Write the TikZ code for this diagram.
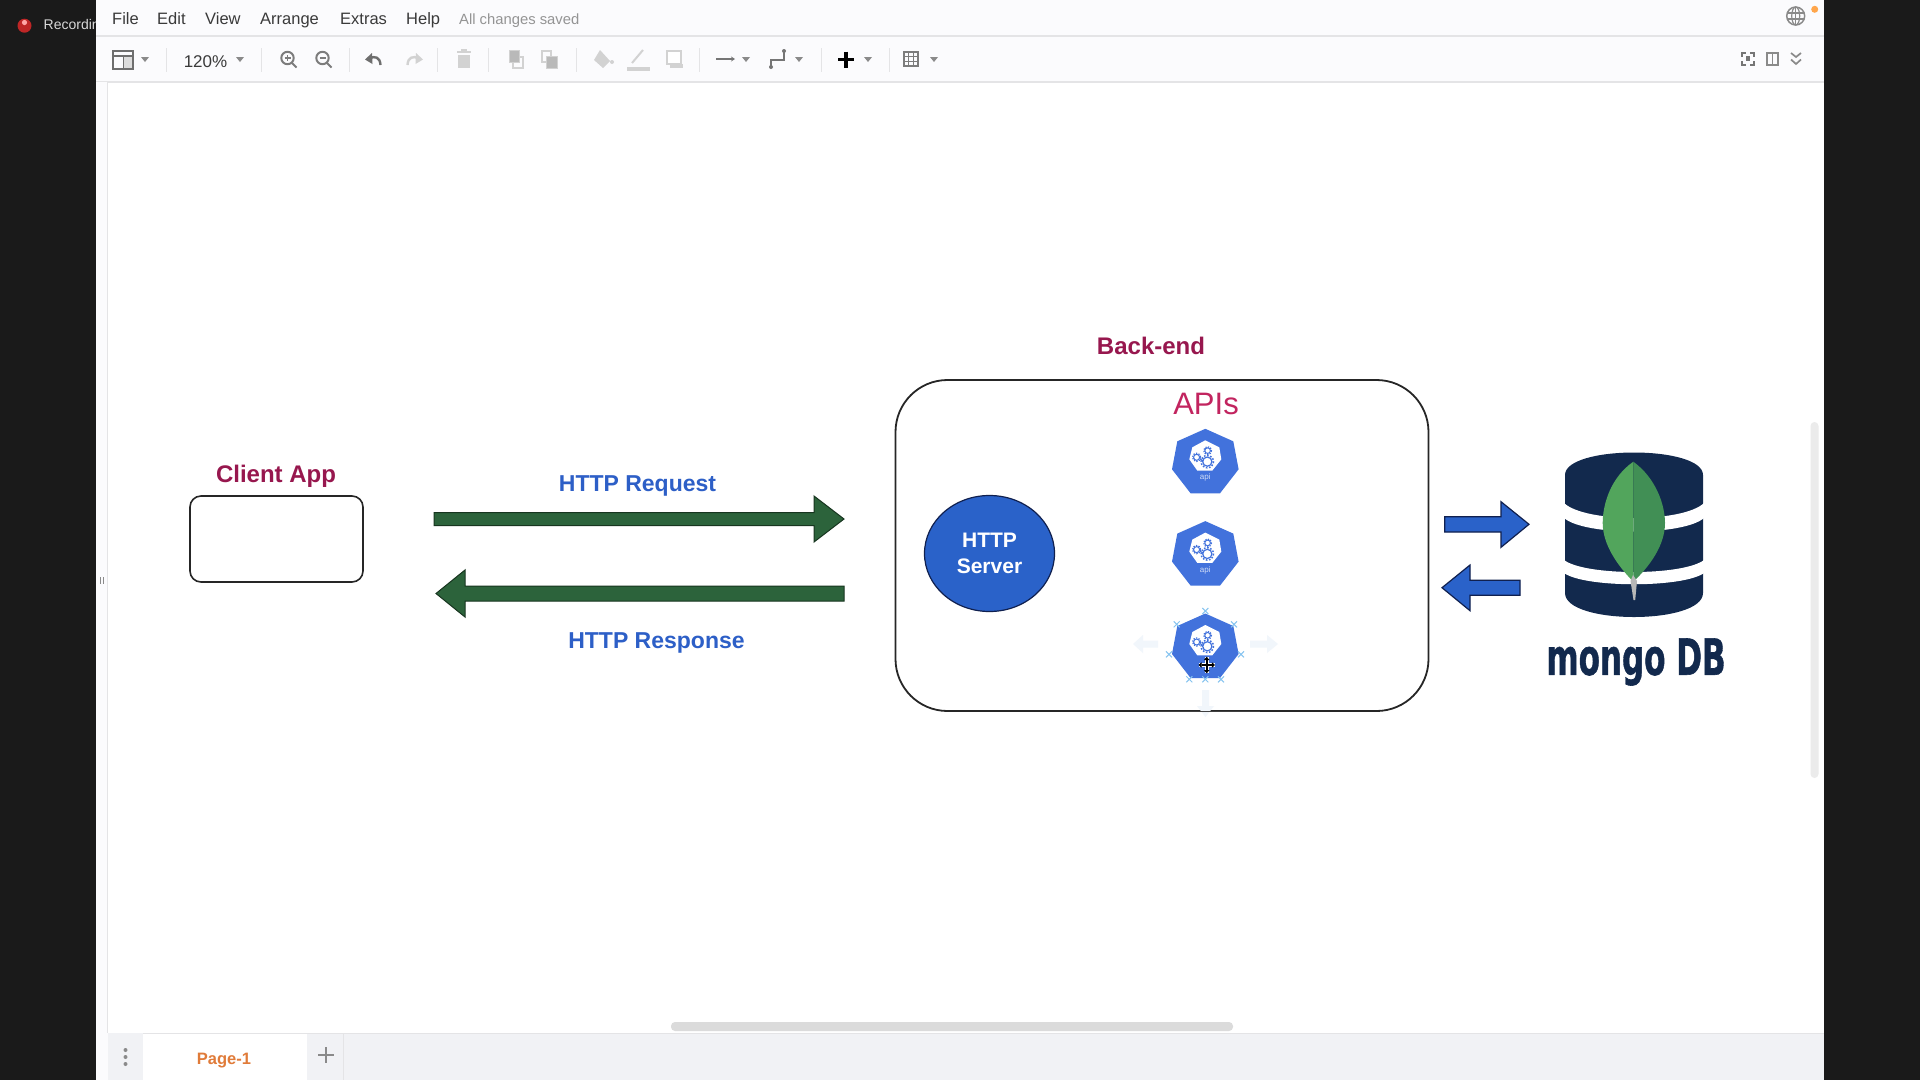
\documentclass[tikz,border=0pt]{standalone}
\usepackage{fontspec}
\setmainfont{Liberation Sans}
\newfontfamily\logofont[BoldFeatures={FakeBold=1.2}]{DejaVu Sans}
\usetikzlibrary{arrows.meta,shapes.geometric}
\definecolor{dark}{HTML}{1A1A1A}
\definecolor{barbg}{HTML}{F1F2F5}
\definecolor{tool}{HTML}{FBFBFD}
\definecolor{sepc}{HTML}{E4E4E6}
\definecolor{menutx}{HTML}{3A3A3A}
\definecolor{icong}{HTML}{8A8A8A}
\definecolor{iconl}{HTML}{D2D2D2}
\definecolor{wine}{HTML}{97174E}
\definecolor{apic}{HTML}{C2245F}
\definecolor{labelblue}{HTML}{2D5FC7}
\definecolor{arrowgreen}{HTML}{2C633B}
\definecolor{arrowedge}{HTML}{17351F}
\definecolor{serverblue}{HTML}{2A62C9}
\definecolor{navyedge}{HTML}{10204F}
\definecolor{k8s}{HTML}{4272DC}
\definecolor{mongonavy}{HTML}{12294D}
\definecolor{leafl}{HTML}{52A55C}
\definecolor{leafd}{HTML}{418F55}
\definecolor{handle}{HTML}{86C4F0}
\definecolor{fadeblue}{HTML}{F1F6FB}
\definecolor{pageorange}{HTML}{E07B39}
\tikzset{
  menuitem/.style={text=menutx,inner sep=0pt,anchor=base,font=\fontsize{16.5}{20}\selectfont},
  caret/.pic={\fill[icong] (-4,-2.5) -- (4,-2.5) -- (0,2.5) -- cycle;},
  sepline/.style={sepc,line width=1pt},
  title/.style={font=\fontsize{24}{28}\selectfont\bfseries,text=wine,inner sep=0pt},
  httplabel/.style={font=\fontsize{23}{27}\selectfont\bfseries,text=labelblue,inner sep=0pt},
  greenarrow/.style={fill=arrowgreen,draw=arrowedge,line width=1pt},
  bluearrow/.style={fill=serverblue,draw=navyedge,line width=1.2pt},
  handlemark/.style={handle,line width=1pt},
  apiicon/.pic={
    \fill[k8s] (0,-34.5) -- (28,-22) -- (33.3,6) -- (14.7,30) -- (-14.7,30) -- (-33.3,6) -- (-28,-22) -- cycle;
    \fill[white] (0,-23) -- (14,-16) -- (16,-4) -- (7,7.3) -- (-8,7.3) -- (-16,-4) -- (-13,-16) -- cycle;
    \draw[k8s,line width=1.2pt] (2,-1.7) circle (4.6);
    \draw[k8s,line width=1.5pt,dash pattern=on 1.6pt off 1.6pt] (2,-1.7) circle (6.2);
    \draw[k8s,line width=1pt] (-8.7,-6) circle (3);
    \draw[k8s,line width=1.2pt,dash pattern=on 1.3pt off 1.3pt] (-8.7,-6) circle (4.1);
    \draw[k8s,line width=1pt] (2.3,-12.7) circle (2.8);
    \draw[k8s,line width=1.2pt,dash pattern=on 1.3pt off 1.3pt] (2.3,-12.7) circle (3.9);
    \draw[k8s,line width=1pt] (-5.5,-4.5) -- (-2,-2.5);
  },
  apitext/.style={font=\fontsize{8}{9}\selectfont,text=white!75!k8s,inner sep=0pt},
}
\begin{document}
\begin{tikzpicture}[x=1pt,y=-1pt]
\useasboundingbox (0,0) rectangle (1920,1080);
\fill[dark] (0,0) rectangle (1920,1080);
% recording indicator
\fill[red!70!black!85!white] (24.5,25.7) circle (7);
\fill[red!35!white] (24.5,22.5) circle (2.6);
\node[anchor=west,inner sep=0pt,text=white!85!black,font=\fontsize{14}{16}\selectfont] (rec) at (43.5,25.5) {Recording};
% app window
\fill[white] (96,0) rectangle (1824,1080);
\fill[tool] (96,0) rectangle (1824,82);
\draw[sepc,line width=1.2pt] (96,36) -- (1824,36);
\draw[sepc,line width=1.2pt] (96,82) -- (1824,82);
\fill[tool] (96,82) rectangle (107,1033);
\draw[sepc,line width=1pt] (107.5,82) -- (107.5,1033);
\fill[icong] (100.3,577) rectangle (101.3,584);
\fill[icong] (102.5,577) rectangle (103.5,584);
% menu
\node[menuitem,anchor=base west] (mfile) at (112,24) {File};
\node[menuitem,anchor=base west] (medit) at (157,24) {Edit};
\node[menuitem,anchor=base west] (mview) at (205,24) {View};
\node[menuitem,anchor=base west] (marr) at (260,24) {Arrange};
\node[menuitem,anchor=base west] (mext) at (340,24) {Extras};
\node[menuitem,anchor=base west] (mhelp) at (406,24) {Help};
\node[anchor=base west,inner sep=0pt,text=black!42,font=\fontsize{14.8}{16}\selectfont] (msaved) at (459,24) {All changes saved};
% toolbar separators
\foreach \sx in {166,261,349,437,488,576,699,821,889}
  \draw[sepline] (\sx,48) -- (\sx,72);
% panel icon
\draw[icong!80!black,line width=1.6pt] (113,51) rectangle (133,69);
\draw[icong!80!black,line width=1.6pt] (113,56) -- (133,56) (124,56) -- (124,69);
\fill[icong!30] (124,56.8) rectangle (132.2,68.2);
\pic at (145,59.5) {caret};
\node[anchor=base,inner sep=0pt,text=menutx,font=\fontsize{17}{20}\selectfont] (zoompct) at (205.5,67) {120\%};
\pic at (240,59.5) {caret};
% zoom in / out
\draw[icong!90!black,line width=2pt] (287.5,58) circle (6.2) (292,63) -- (296.5,67.5);
\draw[icong!90!black,line width=1.4pt] (284.5,58) -- (290.5,58) (287.5,55) -- (287.5,61);
\draw[icong!90!black,line width=2pt] (322.5,58) circle (6.2) (327,63) -- (331.5,67.5);
\draw[icong!90!black,line width=1.4pt] (319.5,58) -- (325.5,58);
% undo / redo
\draw[icong!80!black,line width=2.4pt] (380.5,65) .. controls (380,57) and (375,56) .. (370,58);
\fill[icong!80!black] (365,59.5) -- (372,53) -- (372.5,64) -- cycle;
\draw[iconl,line width=2.4pt] (407.5,65) .. controls (408,57) and (413,56) .. (418,58);
\fill[iconl] (423,59.5) -- (416,53) -- (415.5,64) -- cycle;
% trash
\fill[iconl] (458,54.5) rectangle (469.5,68);
\fill[iconl] (456.5,51) rectangle (471,53.2);
\fill[iconl] (461,49) rectangle (466.5,51);
% to front / to back
\draw[iconl,line width=1.1pt] (510,51) rectangle (519,62);
\draw[iconl,line width=1.1pt] (513,57) rectangle (523,68);
\fill[icong!60] (510,51) rectangle (519,62);
\draw[iconl,line width=1.1pt] (542,51) rectangle (551,62);
\draw[iconl,line width=1.1pt] (547,57) rectangle (557,68);
\fill[icong!60] (547,57) rectangle (557,68);
% fill, line, shadow
\fill[iconl] (600,50) -- (610,61) -- (603,68) -- (594,60) -- cycle;
\fill[iconl] (612,62) circle (2);
\draw[iconl,line width=2pt] (632,63) -- (643,50);
\fill[iconl] (627,67) rectangle (650,70.5);
\draw[iconl,line width=1.4pt,fill=white] (667,51) rectangle (681,64);
\fill[iconl] (670,64) rectangle (683,68);
% connection, waypoint
\draw[menutx!70,line width=1.5pt,-{Stealth[length=4pt,width=5pt]}] (716,59) -- (735,59);
\pic at (746,59.5) {caret};
\draw[menutx!70,line width=1.4pt] (771,67) -- (771,60) -- (784,60) -- (784,51);
\fill[menutx!70] (771,67) circle (2);
\fill[menutx!70] (784,51) circle (2);
\pic at (799,59.5) {caret};
% plus
\draw[black,line width=3.2pt] (838,59.5) -- (854,59.5) (846,51.5) -- (846,67.5);
\pic at (868,59.5) {caret};
% table
\draw[icong!90!black,line width=1.1pt] (904,52) rectangle (918,66)
  (908.7,52) -- (908.7,66) (913.3,52) -- (913.3,66)
  (904,56.7) -- (918,56.7) (904,61.3) -- (918,61.3);
\pic at (934,59.5) {caret};
% right icons
\draw[icong,line width=1.5pt] (1795.7,16) circle (9);
\draw[icong,line width=1.2pt] (1795.7,16) ellipse (4 and 9);
\draw[icong,line width=1.2pt] (1787,13) -- (1804.4,13) (1787,19) -- (1804.4,19) (1795.7,7) -- (1795.7,25);
\fill[orange!70!white] (1814.7,9.3) circle (3.5);
\draw[icong!85!black,line width=1.6pt] (1742,56.5) -- (1742,53) -- (1746,53) (1750,53) -- (1754,53) -- (1754,56.5) (1754,61) -- (1754,65) -- (1750,65) (1746,65) -- (1742,65) -- (1742,61);
\fill[icong!85!black] (1746,56) rectangle (1750,61);
\draw[icong,line width=1.5pt] (1767,53) rectangle (1778,65);
\draw[icong,line width=1.5pt] (1772.5,53) -- (1772.5,65);
\draw[icong,line width=1.7pt] (1791,53) -- (1796,57) -- (1801,53) (1791,59.5) -- (1796,64) -- (1801,59.5);
% scrollbars
\fill[black!8,rounded corners=4pt] (1810.5,422) rectangle (1818.5,778);
\fill[black!14,rounded corners=4pt] (671,1022) rectangle (1233,1031);
% tab bar
\fill[barbg] (96,1033) rectangle (1824,1080);
\draw[sepc,line width=1pt] (96,1033) -- (1824,1033);
\fill[tool] (96,1033) rectangle (107.5,1080);
\fill[barbg] (107.5,1033) rectangle (143,1080);
\fill[white] (143,1034) rectangle (307,1080);
\fill[icong] (125.5,1050) circle (2);
\fill[icong] (125.5,1057) circle (2);
\fill[icong] (125.5,1064) circle (2);
\node[font=\fontsize{16.5}{20}\selectfont\bfseries,text=pageorange,inner sep=0pt] (page) at (224,1060.5) {Page-1};
\draw[icong,line width=2.6pt] (318,1055) -- (334,1055) (326,1047) -- (326,1063);
\draw[sepc,line width=.8pt] (343,1034) -- (343,1080);
% client
\node[title] (clientlbl) at (276,476.5) {Client App};
\node[draw=black!85,line width=1.6pt,rounded corners=11pt,fill=white,minimum width=173pt,minimum height=86pt,inner sep=0pt] (client) at (276.5,539) {};
% HTTP labels and arrows
\node[httplabel] (reqlbl) at (637.5,485.5) {HTTP Request};
\node[httplabel] (resplbl) at (656.5,643) {HTTP Response};
\draw[greenarrow] (434,512.5) -- (814,512.5) -- (814,496) -- (844,519) -- (814,542) -- (814,525.5) -- (434,525.5) -- cycle;
\draw[greenarrow] (844,586) -- (465,586) -- (465,570) -- (436,593.5) -- (465,617) -- (465,601) -- (844,601) -- cycle;
% back-end box
\node[title] (backlbl) at (1151,345.5) {Back-end};
\node[draw=black!85,line width=1.8pt,rounded corners=52pt,minimum width=533pt,minimum height=331pt,inner sep=0pt] (backend) at (1162,545.5) {};
\node[font=\fontsize{31}{36}\selectfont,text=apic,inner sep=0pt] (apis) at (1206,404) {APIs};
\node[ellipse,draw=navyedge,fill=serverblue,line width=1.2pt,minimum width=130pt,minimum height=116pt,inner sep=0pt,align=center,text=white,font=\fontsize{21}{26.5}\selectfont\bfseries] (server) at (989.5,553.5) {HTTP\\Server};
% fading handles of the selected icon
\fill[fadeblue] (1158,640.5) -- (1143,640.5) -- (1143,635) -- (1133,644) -- (1143,653) -- (1143,647.5) -- (1158,647.5) -- cycle;
\fill[fadeblue] (1250,640.5) -- (1267,640.5) -- (1267,635) -- (1278,644) -- (1267,653) -- (1267,647.5) -- (1250,647.5) -- cycle;
\fill[fadeblue] (1202,690) -- (1202,706) -- (1197,706) -- (1205.5,717) -- (1214,706) -- (1209,706) -- (1209,690) -- cycle;
\draw[black!75,line width=1.8pt] (1150,711.5) -- (1260,711.5);
% api icons
\pic (api1) at (1205.3,463.3) {apiicon};
\node[apitext] (api1t) at (1205.3,477.5) {api};
\pic (api2) at (1205.3,555.6) {apiicon};
\node[apitext] (api2t) at (1205.3,570) {api};
\pic (api3) at (1205.3,648) {apiicon};
% selection crosses
\foreach \hx/\hy in {1205.3/611,1176.7/624.3,1234/624.3,1169/654.3,1241/654.3,1189.3/679.3,1205.3/679.3,1221/679.3}
  \draw[handlemark] (\hx-3,\hy-3) -- (\hx+3,\hy+3) (\hx-3,\hy+3) -- (\hx+3,\hy-3);
% move cursor
\draw[white,line width=4pt] (1199,665) -- (1214.5,665) (1206.7,657.2) -- (1206.7,672.8);
\draw[black,line width=1.6pt,{Triangle[length=3.2pt,width=5.5pt]}-{Triangle[length=3.2pt,width=5.5pt]}] (1198.5,665) -- (1215,665);
\draw[black,line width=1.6pt,{Triangle[length=3.2pt,width=5.5pt]}-{Triangle[length=3.2pt,width=5.5pt]}] (1206.7,656.8) -- (1206.7,673.2);
% blue arrows
\draw[bluearrow] (1444.7,516.7) -- (1501,516.7) -- (1501,501.7) -- (1529,524.3) -- (1501,547.3) -- (1501,532) -- (1444.7,532) -- cycle;
\draw[bluearrow] (1520,580.3) -- (1470,580.3) -- (1470,565) -- (1442,587.7) -- (1470,610.7) -- (1470,595.3) -- (1520,595.3) -- cycle;
% mongo logo
\fill[mongonavy] (1565,475) .. controls (1565,445) and (1703,445) .. (1703,475)
  -- (1703,593) .. controls (1703,625) and (1565,625) .. (1565,593) -- cycle;
\fill[white] (1564,503) .. controls (1585,523) and (1683,523) .. (1704,503)
  -- (1704,518) .. controls (1683,536) and (1585,536) .. (1564,518) -- cycle;
\fill[white] (1564,560) .. controls (1585,576) and (1683,576) .. (1704,560)
  -- (1704,573) .. controls (1683,588) and (1585,588) .. (1564,573) -- cycle;
\fill[leafl] (1633.3,461.7) .. controls (1610,478) and (1602.7,505) .. (1602.7,523)
  .. controls (1602.7,545) and (1618,566) .. (1633.3,581.7) -- cycle;
\fill[leafd] (1633.3,461.7) .. controls (1656,478) and (1665,505) .. (1665,523)
  .. controls (1665,545) and (1650,566) .. (1633.3,581.7) -- cycle;
\fill[black!28] (1633,575) -- (1637,581) -- (1635.2,600) -- (1633.5,600) -- (1630.5,581) -- cycle;
\node[inner sep=0pt,text=mongonavy,font=\logofont\fontsize{50}{50}\selectfont\bfseries] (mongo) at (1636,662) {\scalebox{0.62}[1]{mongo DB}};
\end{tikzpicture}
\end{document}
